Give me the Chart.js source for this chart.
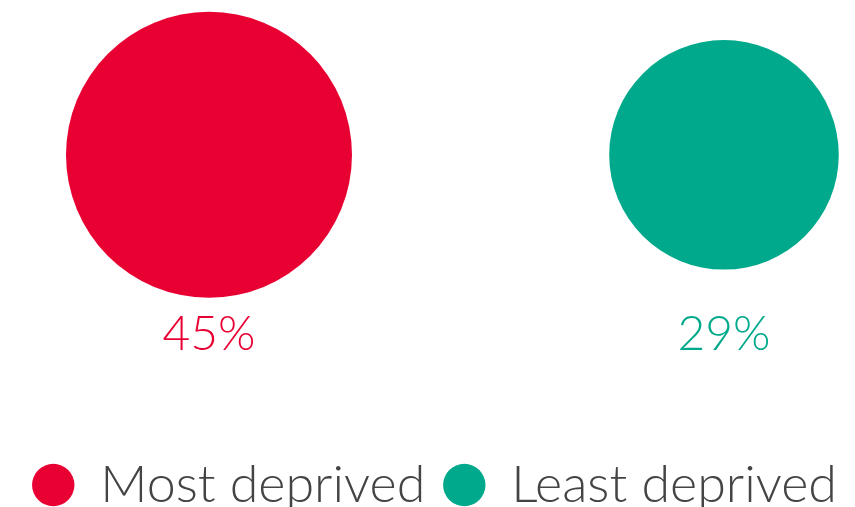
<!DOCTYPE html>
<html>
<head>
<meta charset="utf-8">
<script src="https://cdn.jsdelivr.net/npm/chart.js@4"></script>
<style>
  html, body { margin: 0; padding: 0; background: #fff; }
  #wrap { width: 855px; height: 507px; }
</style>
</head>
<body>
<div id="wrap"><canvas id="bolas"></canvas></div>
<script>
const categorias = ['Most deprived', 'Least deprived'];
const valores = [45, 29];
const etiquetas = ['45%', '29%'];
const colores = ['#E90033', '#00A98B'];

// radio proporcional al area
const escala = 143 / Math.sqrt(45);

const etiquetasPlugin = {
  id: 'etiquetas',
  afterDatasetsDraw(chart) {
    const ctx = chart.ctx;
    const yBase = chart.scales.y.getPixelForValue(0) + 180;
    ctx.save();
    ctx.font = '300 48px Lato';
    ctx.textAlign = 'center';
    ctx.textBaseline = 'middle';
    chart.data.datasets.forEach((ds, i) => {
      const el = chart.getDatasetMeta(i).data[0];
      ctx.fillStyle = colores[i];
      ctx.fillText(etiquetas[i], el.x, yBase);
    });
    ctx.restore();
  }
};

new Chart(document.getElementById('bolas'), {
  type: 'bubble',
  data: {
    datasets: categorias.map((c, i) => ({
      label: c,
      data: [{ x: i, y: 0, r: escala * Math.sqrt(valores[i]) }],
      backgroundColor: colores[i],
      borderWidth: 0,
      hoverBorderWidth: 0,
      clip: false,
      pointStyle: 'circle'
    }))
  },
  options: {
    responsive: true,
    maintainAspectRatio: false,
    animation: false,
    layout: { padding: { top: 0, left: 0, right: 0, bottom: -14 }, autoPadding: false },
    scales: {
      x: { display: false, min: -0.4058, max: 1.2544 },
      y: { display: false, min: -1, max: 0.541 }
    },
    plugins: {
      tooltip: { enabled: false },
      legend: {
        position: 'bottom',
        align: 'end',
        labels: {
          usePointStyle: true,
          boxWidth: 42,
          boxHeight: 30,
          padding: 18,
          color: '#444444',
          font: { family: 'Lato', size: 52, weight: '300' }
        }
      }
    }
  },
  plugins: [etiquetasPlugin]
});
</script>
</body>
</html>
